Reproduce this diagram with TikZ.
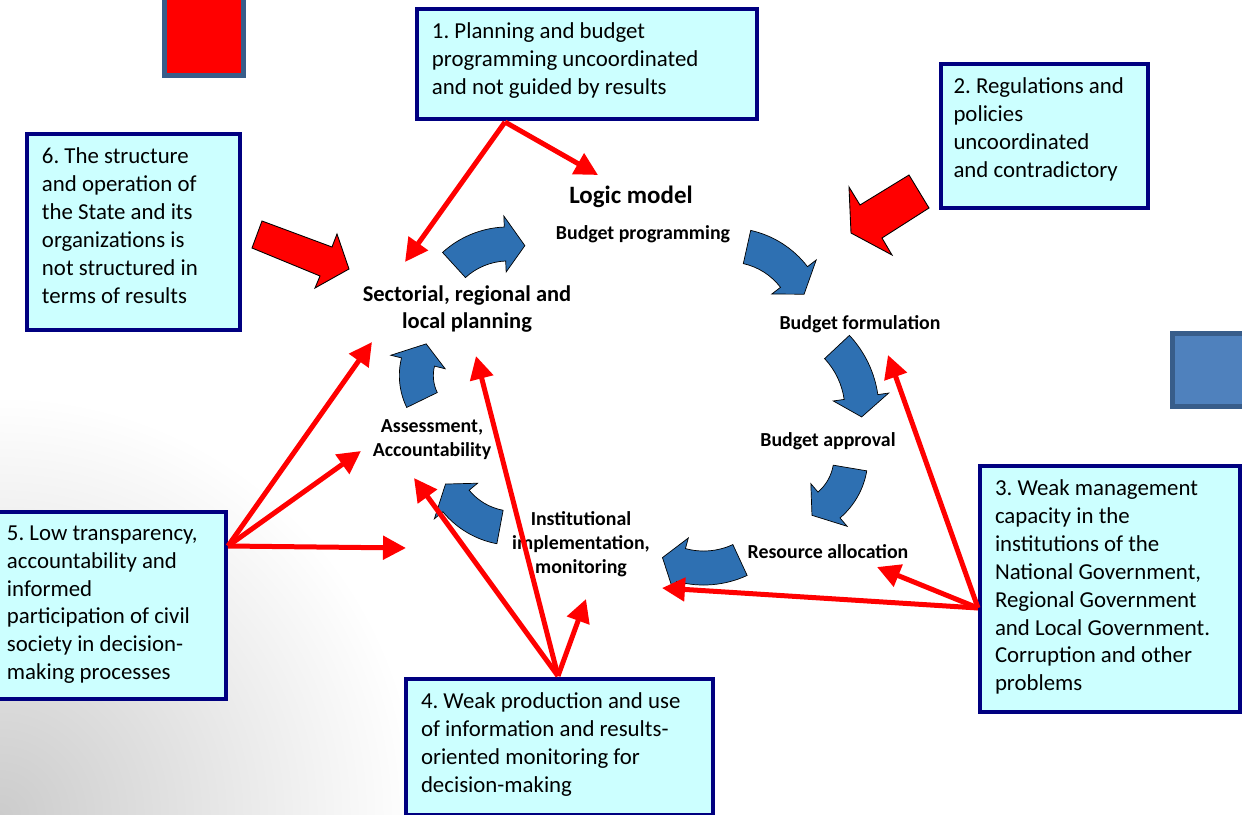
\documentclass[tikz,border=0pt]{standalone}
\usepackage{fontspec}
\setmainfont{Carlito}
\frenchspacing
\usetikzlibrary{positioning,arrows.meta}

\definecolor{boxfill}{HTML}{CCFFFF}
\definecolor{boxline}{HTML}{000080}
\definecolor{cycleblue}{HTML}{2E70B2}
\definecolor{frameblue}{HTML}{385D8A}
\definecolor{tileblue}{HTML}{4F81BD}

% curved block arrow: tail (#1,#2), head base (#3,#4), turn #5 degrees
\newcommand{\cyclestep}[5]{%
  \pgfmathsetmacro{\arcchd}{atan2(#4-#2,#3-#1)}%
  \pgfmathsetmacro{\arcrad}{veclen(#3-#1,#4-#2)/(2*sin(#5/2))}%
  \pgfmathsetmacro{\arcta}{\arcchd-#5/2-90}%
  \pgfmathsetmacro{\arctb}{\arcchd+#5/2-90}%
  \pgfmathsetmacro{\arctc}{\arctb+20/\arcrad*180/pi}%
  \pgfmathsetmacro{\arccx}{#1-\arcrad*cos(\arcta)}%
  \pgfmathsetmacro{\arccy}{#2-\arcrad*sin(\arcta)}%
  \pgfmathsetmacro{\arcro}{\arcrad+17}\pgfmathsetmacro{\arcri}{\arcrad-17}%
  \pgfmathsetmacro{\archo}{\arcrad+28}\pgfmathsetmacro{\archi}{\arcrad-28}%
  \draw[cyclearrow, shift={(\arccx,\arccy)}]
    (\arcta:\arcro) arc[start angle=\arcta, end angle=\arctb, radius=\arcro]
    -- (\arctb:\archo) -- (\arctc:\arcrad) -- (\arctb:\archi) -- (\arctb:\arcri)
    arc[start angle=\arctb, end angle=\arcta, radius=\arcri] -- cycle;}

\begin{document}
\begin{tikzpicture}[x=0.02cm, y=-0.02cm,
  problem/.style={draw=boxline, fill=boxfill, line width=0.08cm, anchor=north west,
    inner xsep=0.3cm, inner ysep=0.27cm, font=\fontsize{13}{15.9}\selectfont},
  stage/.style={font=\bfseries\fontsize{11.3}{13.6}\selectfont, align=center, inner sep=0pt},
  cyclearrow/.style={fill=cycleblue, draw=black, line width=0.4pt},
  bigarrow/.style={fill=red, draw=black, line width=0.5pt},
  cause/.style={red, line width=0.1cm, -{Triangle[length=0.46cm, width=0.46cm]}}]
\useasboundingbox (0,0) rectangle (1242,815);
\shade[inner color=black!20, outer color=white] (0,815) circle (420);

% corner tiles
\draw[frameblue, line width=0.1cm, fill=red] (164.5,-5) rectangle (243.5,75.5);
\draw[frameblue, line width=0.1cm, fill=tileblue] (1172.5,333.5) rectangle (1250,406.5);

% problem boxes
\node[problem](p1) at (415,7) {\parbox[c][1.66cm][t]{6.2cm}{%
  1. Planning and budget\\programming uncoordinated\\and not guided by results}};
\node[problem, inner xsep=0.25cm](p2) at (939,62) {\parbox[c][2.34cm][t]{3.64cm}{%
  2. Regulations and\\policies\\uncoordinated\\and contradictory}};
\node[problem](p3) at (978,464) {\parbox[c][4.38cm][t]{4.6cm}{%
  3. Weak management\\capacity in the\\institutions of the\\National Government,\\Regional Government\\and Local Government.\\Corruption and other\\problems}};
\node[problem](p4) at (404,677) {\parbox[c][2.18cm][t]{5.54cm}{%
  4. Weak production and use\\of information and results-\\oriented monitoring for\\decision-making}};
\node[problem, inner xsep=0.18cm](p5) at (-4,510) {\parbox[c][3.2cm][t]{4.2cm}{%
  5. Low transparency,\\accountability and\\informed\\participation of civil\\society in decision-\\making processes}};
\node[problem](p6) at (25,132) {\parbox[c][3.38cm][t]{3.66cm}{%
  6. The structure\\and operation of\\the State and its\\organizations is\\not structured in\\terms of results}};

% cycle arrows
\cyclestep{454}{265}{505}{244}{40}
\cyclestep{747}{247}{794}{277}{40}
\cyclestep{837}{347}{861}{397}{35}
\cyclestep{850}{468}{829}{505}{40}
\cyclestep{740}{560}{681}{565}{40}
\cyclestep{500}{527}{456}{501}{40}
\cyclestep{422}{400}{418}{362}{40}

% big red arrows
\draw[bigarrow] (262,221) -- (332,247) -- (337,234) -- (349,269) -- (315,288) -- (320,276)
  -- (252,248) -- cycle;
\draw[bigarrow] (909,175) -- (860,205) -- (849,187) -- (851,233) -- (892,255) -- (882,238)
  -- (929,208) -- cycle;

% stages of the cycle
\node[stage, font=\bfseries\fontsize{14.2}{17}\selectfont](logic) at (631,197) {Logic model};
\node[stage](prog) at (643,234) {Budget programming};
\node[stage, font=\bfseries\fontsize{12.8}{15.3}\selectfont](plan) at (467,309)
  {Sectorial, regional and\\local planning};
\node[stage](form) at (860,324) {Budget formulation};
\node[stage](appr) at (828,441) {Budget approval};
\node[stage](alloc)[below = 1.88cm of appr] {Resource allocation};
\node[stage](impl) at (581,544) {Institutional\\implementation,\\monitoring};
\node[stage](assess) at (432,440) {Assessment,\\Accountability};

% ends of the cause arrows
\coordinate (f1) at (505,122);
\coordinate (f3) at (978,608);
\coordinate (f4) at (558,676);
\coordinate (f5) at (228,546);
\coordinate (t1a) at (405,262);
\coordinate (t1b) at (598,175);
\coordinate (t3a) at (888,355);
\coordinate (t3b) at (877,567);
\coordinate (t3c) at (662,588);
\coordinate (t4a) at (414,478);
\coordinate (t4b) at (476,356);
\coordinate (t4c) at (586,599);
\coordinate (t5a) at (372,342);
\coordinate (t5b) at (361,451);
\coordinate (t5c) at (406,548);

\path[cause]
  (f1) edge (t1a) edge (t1b)
  (f3) edge (t3a) edge (t3b) edge (t3c)
  (f4) edge (t4a) edge (t4b) edge (t4c)
  (f5) edge (t5a) edge (t5b) edge (t5c);
\end{tikzpicture}
\end{document}
